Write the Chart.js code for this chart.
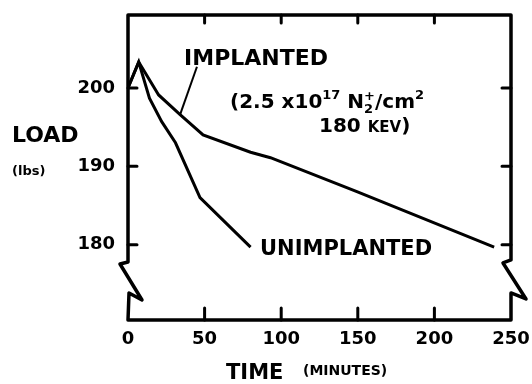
<!DOCTYPE html>
<html>
<head>
<meta charset="utf-8">
<script src="https://cdn.jsdelivr.net/npm/chart.js@4"></script>
<style>
  html, body { margin: 0; padding: 0; background: #fff; }
  #wrap { width: 532px; height: 384px; }
</style>
</head>
<body>
<div id="wrap"><canvas id="chart"></canvas></div>
<script>
// values
const implantedTime = [0, 7, 20, 34, 49, 80, 93, 149, 239];
const implantedLoad = [200.0, 203.3, 199.1, 196.6, 194.0, 191.8, 191.1, 186.8, 179.7];

const unimplantedTime = [0, 7, 14, 22, 31, 47, 80];
const unimplantedLoad = [200.0, 203.3, 198.7, 195.7, 193.0, 186.0, 179.7];

// leader line from the IMPLANTED label to its curve
const leaderTime = [45, 34];
const leaderLoad = [202.7, 196.6];

const xTicks = [0, 50, 100, 150, 200, 250];
const yTicks = [180, 190, 200];

const FONT = '"DejaVu Sans", sans-serif';
const pts = (xs, ys) => xs.map((x, i) => ({ x, y: ys[i] }));

const frame = {
  id: 'frame',
  afterDatasetsDraw(chart) {
    const { ctx, chartArea: a, scales: { x, y } } = chart;
    const L = a.left, R = a.right, T = a.top, B = a.bottom;
    const yb = y.getPixelForValue(177.8);
    ctx.save();
    ctx.strokeStyle = '#000';
    ctx.lineWidth = 3.5;
    ctx.lineJoin = 'round';
    ctx.lineCap = 'round';
    ctx.beginPath();
    ctx.moveTo(L, T);
    ctx.lineTo(L, yb);
    ctx.lineTo(L - 8, yb + 2);
    ctx.lineTo(L + 14, yb + 38);
    ctx.lineTo(L + 1, yb + 31);
    ctx.lineTo(L, B);
    ctx.lineTo(R, B);
    ctx.lineTo(R, yb + 31);
    ctx.lineTo(R + 15, yb + 37);
    ctx.lineTo(R - 8, yb + 1);
    ctx.lineTo(R, yb - 2);
    ctx.lineTo(R, T);
    ctx.closePath();
    ctx.stroke();

    // inward ticks
    ctx.lineWidth = 3;
    ctx.beginPath();
    xTicks.slice(1, -1).forEach(v => {
      const px = x.getPixelForValue(v);
      ctx.moveTo(px, T); ctx.lineTo(px, T + 8);
      ctx.moveTo(px, B); ctx.lineTo(px, B - 12);
    });
    yTicks.forEach(v => {
      const py = y.getPixelForValue(v);
      ctx.moveTo(L, py); ctx.lineTo(L + 9, py);
      ctx.moveTo(R, py); ctx.lineTo(R - 9, py);
    });
    ctx.stroke();

    // labels on the curves
    ctx.fillStyle = '#000';
    ctx.textBaseline = 'alphabetic';
    ctx.textAlign = 'left';
    const put = (tx, ty) => [x.getPixelForValue(tx), y.getPixelForValue(ty)];

    let [px, py] = put(36.6, 202.9);
    ctx.font = 'bold 22px ' + FONT;
    ctx.fillText('IMPLANTED', px, py);

    [px, py] = put(66.6, 197.5);
    const runs = [
      ['(2.5 x10', 20, 0],
      ['17', 13, -9],
      [' N', 20, 0],
      ['2', 13, 5, true],
      ['+', 13, -8],
      ['/cm', 20, 0],
      ['2', 13, -9]
    ];
    let cx = px;
    runs.forEach(([s, size, dy, stack]) => {
      ctx.font = 'bold ' + size + 'px ' + FONT;
      ctx.fillText(s, cx, py + dy);
      if (!stack) cx += ctx.measureText(s).width;
    });

    [px, py] = put(124.7, 194.4);
    ctx.font = 'bold 20px ' + FONT;
    ctx.fillText('180 ', px, py);
    cx = px + ctx.measureText('180 ').width;
    ctx.font = 'bold 15px ' + FONT;
    ctx.fillText('KEV', cx, py);
    cx += ctx.measureText('KEV').width;
    ctx.font = 'bold 20px ' + FONT;
    ctx.fillText(')', cx, py);

    [px, py] = put(86.2, 178.7);
    ctx.font = 'bold 21px ' + FONT;
    ctx.fillText('UNIMPLANTED', px, py);

    // axis titles
    ctx.font = 'bold 22px ' + FONT;
    ctx.fillText('LOAD', 12, 142);
    ctx.font = 'bold 13px ' + FONT;
    ctx.fillText('(lbs)', 12, 175);
    ctx.font = 'bold 21px ' + FONT;
    ctx.fillText('TIME', 226, 379);
    ctx.font = 'bold 14px ' + FONT;
    ctx.fillText('(MINUTES)', 303, 375);
    ctx.restore();
  }
};

const line = (data, w) => ({
  data, borderColor: '#000', borderWidth: w, pointRadius: 0, tension: 0, fill: false
});

new Chart(document.getElementById('chart'), {
  type: 'line',
  data: {
    datasets: [
      line(pts(implantedTime, implantedLoad), 3),
      line(pts(unimplantedTime, unimplantedLoad), 3),
      line(pts(leaderTime, leaderLoad), 2)
    ]
  },
  options: {
    responsive: true,
    maintainAspectRatio: false,
    animation: false,
    devicePixelRatio: 1,
    layout: { padding: { top: 15, right: 21, left: 0, bottom: 0 } },
    plugins: { legend: { display: false }, tooltip: { enabled: false } },
    scales: {
      x: {
        type: 'linear', min: 0, max: 250,
        afterBuildTicks: s => { s.ticks = xTicks.map(value => ({ value })); },
        afterFit: s => { s.height = 64; s.paddingLeft = 0; s.paddingRight = 0; },
        grid: { display: false, drawTicks: false },
        border: { display: false },
        ticks: { color: '#000', padding: 9, maxRotation: 0, font: { family: FONT, weight: 'bold', size: 18 } }
      },
      y: {
        type: 'linear', min: 170.4, max: 209.3,
        afterBuildTicks: s => { s.ticks = yTicks.map(value => ({ value })); },
        afterFit: s => { s.width = 128; s.paddingTop = 0; s.paddingBottom = 0; },
        grid: { display: false, drawTicks: false },
        border: { display: false },
        ticks: { color: '#000', padding: 13, font: { family: FONT, weight: 'bold', size: 18 } }
      }
    }
  },
  plugins: [frame]
});
</script>
</body>
</html>
